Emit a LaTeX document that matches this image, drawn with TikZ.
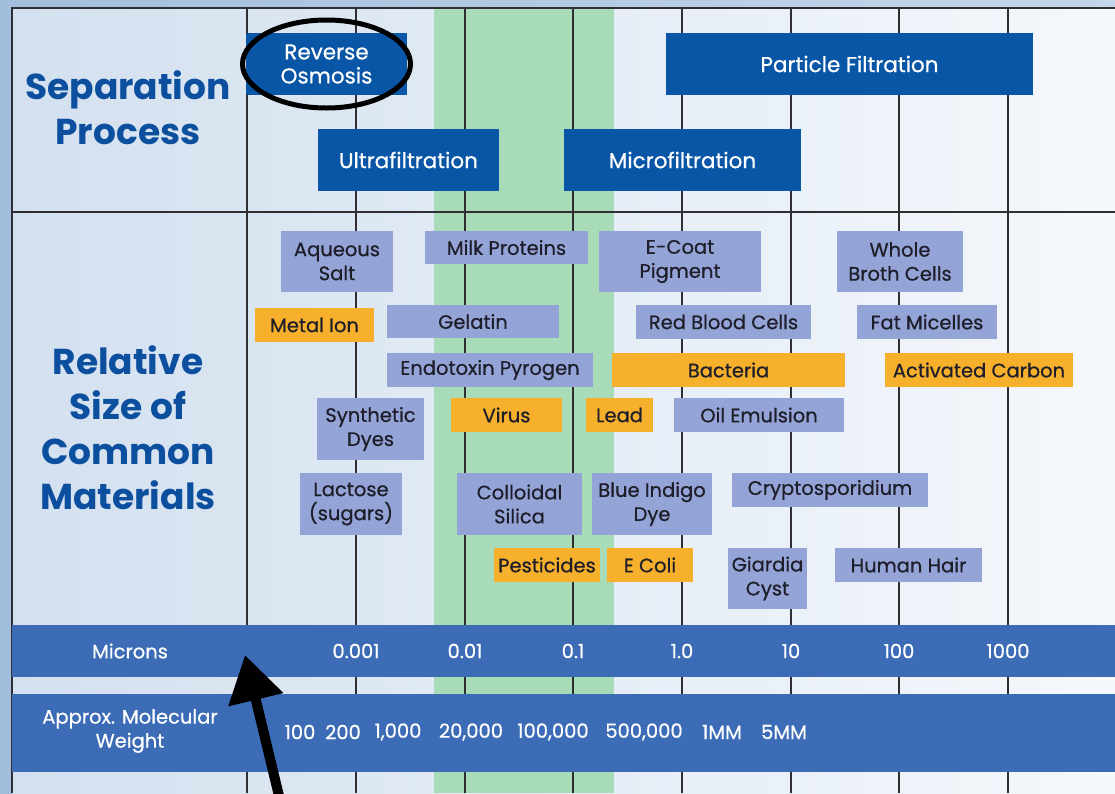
\documentclass[tikz,border=0pt]{standalone}
\usepackage{fontspec}
\setmainfont{Poppins}
\newfontfamily\medfont{Poppins}[FakeBold=0.6]
\usetikzlibrary{arrows.meta,shapes.geometric}
\definecolor{boxblue}{HTML}{0A56A6}
\definecolor{titleblue}{HTML}{0B4F9E}
\definecolor{barblue}{HTML}{3D6CB6}
\definecolor{lavc}{HTML}{95A4D6}
\definecolor{orng}{HTML}{F6B02C}
\definecolor{grn}{HTML}{A8DCB9}
\definecolor{skyout}{HTML}{A3BEDD}
\definecolor{skyin}{HTML}{D3E0EF}
\definecolor{skywhite}{HTML}{F5F8FC}
\definecolor{gridline}{HTML}{2E2E33}
\definecolor{mattext}{HTML}{1E1E2A}
\newcommand\matbox[7]{\node[#2, minimum width={(#5)-(#3)}, minimum height={(#6)-(#4)}] (#1) at ({((#3)+(#5))/2},{((#4)+(#6))/2}) {#7};}
\begin{document}
\begin{tikzpicture}[x=1pt,y=-1pt,
  procbox/.style={fill=boxblue, text=white, inner sep=0pt, outer sep=0pt, align=center, font=\medfont\fontsize{21.5}{24}\selectfont},
  lavbox/.style={fill=lavc, text=mattext, inner sep=0pt, outer sep=0pt, align=center, font=\medfont\fontsize{19.5}{24}\selectfont},
  orbox/.style={lavbox, fill=orng},
  gridln/.style={draw=gridline, line width=1.8pt},
  bartext/.style={text=white, font=\medfont\fontsize{19.5}{24}\selectfont, inner sep=0pt, align=center},
  titletext/.style={text=titleblue, font=\bfseries\fontsize{36}{45}\selectfont, align=center, inner sep=0pt},
  ring/.style={ellipse, draw=black, line width=5pt, inner sep=0pt, minimum width=168pt, minimum height=88pt},
  bigarrow/.style={draw=black, line width=10pt, -{Triangle[length=46pt, width=54pt]}},
]
\useasboundingbox (0,0) rectangle (1115,793);
% background
\fill[left color=skyout, right color=skyin!70!skyout] (0,0) rectangle (1115,793);
\fill[left color=skyin, right color=skywhite] (12,8) rectangle (1115,793);
% green band
\fill[grn] (434,8) rectangle (614,793);
% grid
\foreach \gx in {247,356,465,573,682,791,899,1008} \draw[gridln] (\gx,8) -- (\gx,793);
\draw[gridln] (12,793) -- (12,8) -- (1115,8);
\draw[gridln] (12,212) -- (1115,212);
% bars
\fill[barblue] (12,625) rectangle (1115,677);
\fill[barblue] (12,694) rectangle (1115,772);
% titles
\node[titletext] (septitle) at (128,108) {Separation\\Process};
\node[titletext] (reltitle) at (128,428) {Relative\\Size of\\Common\\Materials};
% process boxes
\matbox{ro}{procbox}{246}{33}{407}{95}{Reverse\\Osmosis}
\matbox{pf}{procbox}{666}{33}{1033}{95}{Particle Filtration}
\matbox{uf}{procbox}{318}{129}{499}{191}{Ultrafiltration}
\matbox{mf}{procbox}{564}{129}{801}{191}{Microfiltration}
\node[ring] (roring) at (ro) {};
% materials
\matbox{aq}{lavbox}{281}{231}{393}{292}{Aqueous\\Salt}
\matbox{milk}{lavbox}{425}{231}{588}{264}{Milk Proteins}
\matbox{ecoat}{lavbox}{599}{231}{761}{292}{E-Coat\\Pigment}
\matbox{broth}{lavbox}{837}{231}{963}{292}{Whole\\Broth Cells}
\matbox{metal}{orbox}{255}{308}{374}{342}{Metal Ion}
\matbox{gel}{lavbox}{387}{305}{559}{338}{Gelatin}
\matbox{rbc}{lavbox}{636}{305}{811}{339}{Red Blood Cells}
\matbox{fat}{lavbox}{857}{305}{997}{339}{Fat Micelles}
\matbox{endo}{lavbox}{387}{353}{593}{387}{Endotoxin Pyrogen}
\matbox{bact}{orbox}{612}{353}{845}{387}{Bacteria}
\matbox{carbon}{orbox}{885}{353}{1073}{387}{Activated Carbon}
\matbox{syn}{lavbox}{317}{398}{424}{460}{Synthetic\\Dyes}
\matbox{virus}{orbox}{451}{398}{562}{432}{Virus}
\matbox{lead}{orbox}{586}{398}{653}{432}{Lead}
\matbox{oil}{lavbox}{674}{398}{844}{432}{Oil Emulsion}
\matbox{lact}{lavbox}{300}{473}{402}{535}{Lactose\\(sugars)}
\matbox{coll}{lavbox}{457}{473}{582}{535}{Colloidal\\Silica}
\matbox{indigo}{lavbox}{592}{473}{712}{535}{Blue Indigo\\Dye}
\matbox{crypto}{lavbox}{732}{473}{928}{507}{Cryptosporidium}
\matbox{pest}{orbox}{494}{548}{600}{582}{Pesticides}
\matbox{ecoli}{orbox}{607}{548}{693}{582}{E Coli}
\matbox{giardia}{lavbox}{728}{548}{807}{609}{Giardia\\Cyst}
\matbox{hair}{lavbox}{835}{548}{982}{582}{Human Hair}
% micron labels
\node[bartext] (microns) at (130,651) {Microns};
\node[bartext] (m1) at (356,651) {0.001};
\node[bartext] (m2) at (465,651) {0.01};
\node[bartext] (m3) at (573,651) {0.1};
\node[bartext] (m4) at (682,651) {1.0};
\node[bartext] (m5) at (791,651) {10};
\node[bartext] (m6) at (899,651) {100};
\node[bartext] (m7) at (1008,651) {1000};
% molecular weight labels
\node[bartext] (mw) at (130,731) {Approx. Molecular\\Weight};
\node[bartext] (w1) at (300,732) {100};
\node[bartext] (w2) at (343,732) {200};
\node[bartext] (w3) at (398,732) {1,000};
\node[bartext] (w4) at (471,732) {20,000};
\node[bartext] (w5) at (553,732) {100,000};
\node[bartext] (w6) at (644,732) {500,000};
\node[bartext] (w7) at (722,732) {1MM};
\node[bartext] (w8) at (784,732) {5MM};
% arrow
\coordinate (atail) at (280,800);
\coordinate (atip) at (245,655);
\draw[bigarrow] (atail) -- (atip);
\end{tikzpicture}
\end{document}
